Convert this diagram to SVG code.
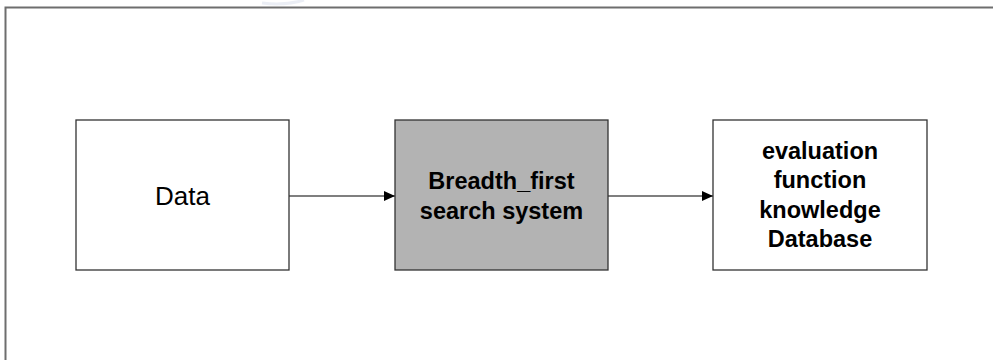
<svg xmlns="http://www.w3.org/2000/svg" width="993" height="360" viewBox="0 0 993 360">
  <defs>
    <marker id="arrow" markerWidth="12" markerHeight="12" refX="11" refY="5.5" orient="auto" markerUnits="userSpaceOnUse">
      <path d="M0,0.5 L11,5.5 L0,10.5 Z" fill="#000"/>
    </marker>
    <style>
      .box { stroke: #333; stroke-width: 1.3; }
      .plain { fill: #ffffff; }
      .gray { fill: #b3b3b3; }
      .lbl { font-family: "Liberation Sans", Arial, sans-serif; fill: #000; text-anchor: middle; }
      .bold { font-weight: bold; font-size: 23.5px; }
      .reg { font-size: 26px; }
      .conn { stroke: #000; stroke-width: 1.2; fill: none; }
    </style>
  </defs>
  <rect width="993" height="360" fill="#fff"/>
  <path d="M262,3 Q285,6 304,0" stroke="#dde2ee" stroke-width="3" fill="none" opacity="0.6"/>
  <rect id="frame" x="5.5" y="7.5" width="1000" height="400" fill="none" stroke="#6e6e6e" stroke-width="2"/>

  <g id="connectors">
    <line class="conn" x1="289" y1="196" x2="395" y2="196" marker-end="url(#arrow)"/>
    <line class="conn" x1="608" y1="196" x2="713" y2="196" marker-end="url(#arrow)"/>
  </g>

  <g id="data">
    <rect class="box plain" x="76" y="120" width="213" height="150"/>
    <text class="lbl reg" x="182.5" y="204.5">Data</text>
  </g>

  <g id="bfs">
    <rect class="box gray" x="395" y="120" width="213" height="150"/>
    <text class="lbl bold" x="501.5" y="189">Breadth_first</text>
    <text class="lbl bold" x="501.5" y="218.5">search system</text>
  </g>

  <g id="knowledge">
    <rect class="box plain" x="713" y="120" width="214" height="150"/>
    <text class="lbl bold" x="820" y="158.5">evaluation</text>
    <text class="lbl bold" x="820" y="188">function</text>
    <text class="lbl bold" x="820" y="217.5">knowledge</text>
    <text class="lbl bold" x="820" y="247">Database</text>
  </g>
</svg>
